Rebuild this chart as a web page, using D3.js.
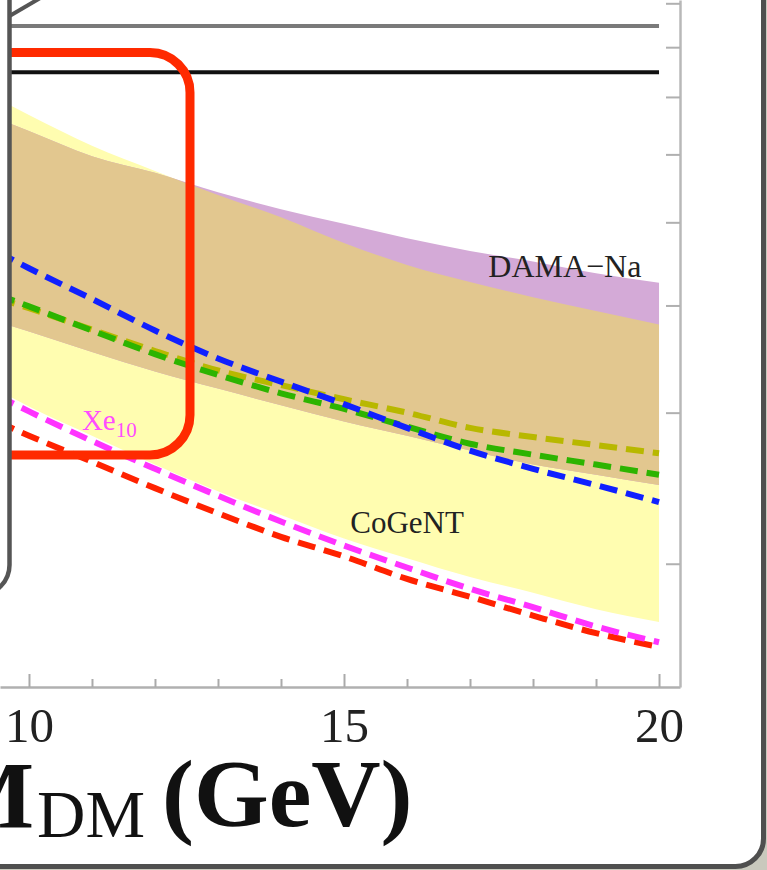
<!DOCTYPE html>
<html><head><meta charset="utf-8">
<script src="https://cdn.jsdelivr.net/npm/d3@7"></script>
<style>html,body{margin:0;padding:0;background:#c9c9bd;} svg{display:block;}</style>
</head><body>
<svg id="chart" width="767" height="870"></svg>
<script>
// ---- data ----
const masses       = [9.5, 10, 11, 12, 13, 14, 15, 16, 17, 18, 19, 20];
const cogentUpper  = [6.96, 6.67, 6.14, 5.74, 5.38, 5.07, 4.73, 4.46, 4.26, 4.09, 3.94, 3.80];
const cogentLower  = [3.19, 3.05, 2.82, 2.61, 2.43, 2.28, 2.14, 2.03, 1.93, 1.85, 1.77, 1.71];
const damaUpper    = [6.60, 6.39, 5.97, 5.71, 5.42, 5.18, 4.98, 4.79, 4.63, 4.50, 4.36, 4.25];
const damaLower    = [3.83, 3.73, 3.53, 3.35, 3.20, 3.06, 2.93, 2.82, 2.71, 2.61, 2.54, 2.47];
const oliveLimit   = [4.08, 3.97, 3.75, 3.54, 3.36, 3.23, 3.11, 3.00, 2.88, 2.81, 2.75, 2.69];
const greenLimit   = [4.12, 3.99, 3.74, 3.51, 3.32, 3.16, 3.03, 2.89, 2.76, 2.68, 2.61, 2.54];
const blueLimit    = [4.62, 4.42, 4.07, 3.74, 3.47, 3.26, 3.07, 2.88, 2.71, 2.58, 2.47, 2.36];
const xenon10      = [3.14, 3.01, 2.78, 2.58, 2.40, 2.24, 2.10, 1.98, 1.87, 1.78, 1.69, 1.62];
const redLimit     = [2.93, 2.82, 2.63, 2.45, 2.29, 2.15, 2.04, 1.92, 1.83, 1.74, 1.66, 1.60];
const grayLevel    = 8.47;
const blackLevel   = 7.48;
const majorTicks   = [10, 15, 20];
const minorTicks   = [11, 12, 13, 14, 16, 17, 18, 19];
const yTicks       = [2, 3, 4, 5, 6, 7, 8, 9];
const xDomain      = [9.54, 20.333];
const yDomain      = [1.4367, 9.08];

const serif = '"Liberation Serif","Times New Roman",serif';
const svg = d3.select('#chart');

// page frame
svg.append('rect').attr('width', 767).attr('height', 870).attr('fill', '#c9c9bd');
svg.append('rect').attr('x', -100).attr('y', -100).attr('width', 863.5).attr('height', 966.5)
  .attr('rx', 28).attr('fill', '#fff').attr('stroke', '#4f4f4f').attr('stroke-width', 5);

const plotW = 680, plotH = 687;
const x = d3.scaleLinear().domain(xDomain).range([0, plotW]);
const y = d3.scaleLog().domain(yDomain).range([plotH, 0]);

const defs = svg.append('defs');
defs.append('clipPath').attr('id', 'plotClip').append('rect').attr('width', plotW).attr('height', plotH);
const plot = svg.append('g').attr('clip-path', 'url(#plotClip)');

const band = (lo, hi) => d3.area()
  .x((d, i) => x(masses[i])).y0((d, i) => y(lo[i])).y1((d, i) => y(hi[i]))
  .curve(d3.curveMonotoneX)(masses);
const cogentPath = band(cogentLower, cogentUpper);
const damaPath = band(damaLower, damaUpper);
defs.append('clipPath').attr('id', 'cogentClip').append('path').attr('d', cogentPath);

plot.append('path').attr('d', cogentPath).attr('fill', '#fffdb0');
plot.append('path').attr('d', damaPath).attr('fill', '#d4aad7');
plot.append('path').attr('d', damaPath).attr('fill', '#e2c78f').attr('clip-path', 'url(#cogentClip)');

// horizontal lines
const hLine = v => d3.line().x(d => x(d)).y(() => y(v))([masses[0], masses[masses.length - 1]]);
plot.append('path').attr('d', hLine(grayLevel)).attr('stroke', '#7a7a7a').attr('stroke-width', 4).attr('fill', 'none');
plot.append('path').attr('d', hLine(blackLevel)).attr('stroke', '#111').attr('stroke-width', 4).attr('fill', 'none');

// dashed limit curves
const line = vals => d3.line().x((d, i) => x(masses[i])).y((d, i) => y(vals[i])).curve(d3.curveMonotoneX)(masses);
const dashed = [
  { v: redLimit, c: '#ff2200' },
  { v: xenon10, c: '#ff33ff' },
  { v: oliveLimit, c: '#b8b800' },
  { v: greenLimit, c: '#2db400' },
  { v: blueLimit, c: '#1020ff' }
];
dashed.forEach(s => {
  plot.append('path').attr('d', line(s.v)).attr('fill', 'none').attr('stroke', s.c)
    .attr('stroke-width', 6).attr('stroke-dasharray', '18,9');
});

// labels
plot.append('text').attr('x', x(17.29)).attr('y', y(4.32)).attr('font-family', serif)
  .attr('font-size', 32).attr('fill', '#222').text('DAMA\u2212Na');
plot.append('text').attr('x', x(15.10)).attr('y', y(2.17)).attr('font-family', serif)
  .attr('font-size', 31).attr('fill', '#222').text('CoGeNT');
const xe = plot.append('text').attr('x', x(10.84)).attr('y', y(2.86)).attr('font-family', serif)
  .attr('font-size', 29).attr('fill', '#ff4dff');
xe.append('tspan').text('Xe');
xe.append('tspan').attr('font-size', 21).attr('dy', 7).text('10');

// axes
const xAxis = svg.append('g').attr('transform', `translate(0,${plotH})`)
  .call(d3.axisBottom(x).tickValues(majorTicks).tickSizeInner(-13).tickSizeOuter(0).tickFormat(d3.format('d')));
xAxis.select('.domain').attr('stroke', '#b0b0b0').attr('stroke-width', 2.5);
xAxis.selectAll('.tick line').attr('stroke', '#aaa').attr('stroke-width', 2);
xAxis.selectAll('.tick text').attr('y', 55).attr('dy', 0).attr('font-family', serif)
  .attr('font-size', 49).attr('fill', '#222');
const xMinor = svg.append('g').attr('transform', `translate(0,${plotH})`)
  .call(d3.axisBottom(x).tickValues(minorTicks).tickSizeInner(-8).tickSizeOuter(0).tickFormat(''));
xMinor.select('.domain').remove();
xMinor.selectAll('.tick line').attr('stroke', '#aaa').attr('stroke-width', 2);

const yAxis = svg.append('g').attr('transform', `translate(${plotW},0)`)
  .call(d3.axisRight(y).tickValues(yTicks).tickSizeInner(-14).tickSizeOuter(0).tickFormat(''));
yAxis.select('.domain').attr('stroke', '#b8b8b8').attr('stroke-width', 2.5);
yAxis.selectAll('.tick line').attr('stroke', '#b0b0b0').attr('stroke-width', 2);

// annotation boxes
svg.append('rect').attr('x', -200).attr('y', 52.5).attr('width', 390).attr('height', 402.5)
  .attr('rx', 40).attr('fill', 'none').attr('stroke', '#ff2a00').attr('stroke-width', 9);
svg.append('rect').attr('x', -200).attr('y', -200).attr('width', 209.5).attr('height', 795)
  .attr('rx', 30).attr('fill', '#fff').attr('stroke', '#555').attr('stroke-width', 4.5);
svg.append('line').attr('x1', 9.5).attr('y1', 16).attr('x2', 42).attr('y2', -3)
  .attr('stroke', '#555').attr('stroke-width', 4);

// axis title
svg.append('text').attr('x', 34).attr('y', 828).attr('text-anchor', 'end').attr('font-family', serif)
  .attr('font-weight', 'bold').attr('font-size', 96).attr('fill', '#111').text('M');
svg.append('text').attr('x', 37).attr('y', 837).attr('font-family', serif)
  .attr('font-size', 67).attr('fill', '#111').text('DM');
svg.append('text').attr('x', 162).attr('y', 826).attr('font-family', serif)
  .attr('font-weight', 'bold').attr('font-size', 96).attr('fill', '#111').text('(GeV)');
</script>
</body></html>
